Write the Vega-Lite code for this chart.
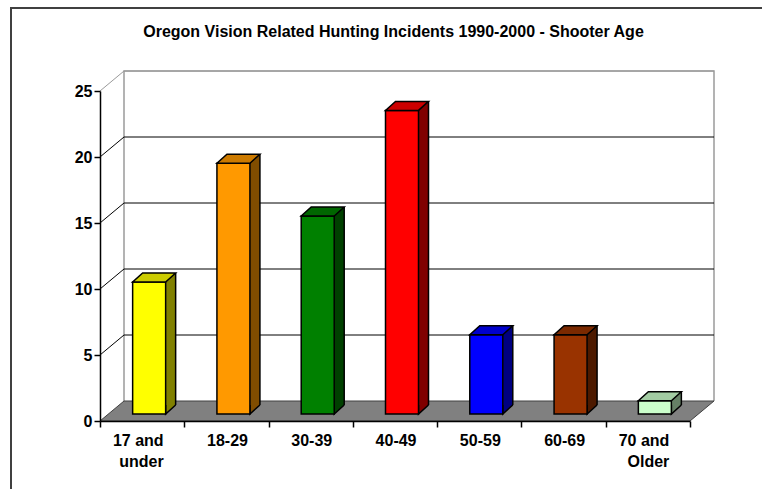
{
  "$schema": "https://vega.github.io/schema/vega-lite/v6.json",
  "width": 751,
  "height": 481,
  "autosize": {"type": "none"},
  "padding": {"left": 11, "top": 8, "right": 0, "bottom": 0},
  "background": "white",
  "config": {
    "view": {"stroke": "#404040", "strokeWidth": 2, "strokeDash": [751, 1232, 481], "fill": "white"},
    "font": "Liberation Sans"
  },
  "title": {
    "text": "Oregon Vision Related Hunting Incidents 1990-2000 - Shooter Age",
    "font": "Liberation Sans",
    "fontSize": 16,
    "fontWeight": "bold",
    "color": "black",
    "anchor": "middle",
    "frame": "group",
    "baseline": "alphabetic",
    "offset": -26,
    "dx": 7,
    "dy": 19
  },
  "datasets": {
    "bars": [
      {"cat": "17 and under", "v": 10},
      {"cat": "18-29", "v": 19},
      {"cat": "30-39", "v": 15},
      {"cat": "40-49", "v": 23},
      {"cat": "50-59", "v": 6},
      {"cat": "60-69", "v": 6},
      {"cat": "70 and Older", "v": 1}
    ],
    "grid": [{"v": 5}, {"v": 10}, {"v": 15}, {"v": 20}, {"v": 25}],
    "one": [{"k": "plane"}]
  },
  "resolve": {"scale": {"fill": "independent"}},
  "layer": [
    {
      "data": {"name": "one"},
      "mark": {"type": "point", "shape": "M-271,-20L-271,-350L319,-350L319,-20", "size": 4, "filled": false, "stroke": "#9a9a9a", "strokeWidth": 1.5, "opacity": 1},
      "encoding": {
        "x": {"datum": "40-49", "type": "nominal", "scale": {"type": "band", "domain": ["17 and under", "18-29", "30-39", "40-49", "50-59", "60-69", "70 and Older"], "range": [89, 679], "paddingInner": 0, "paddingOuter": 0}},
        "y": {"datum": 0, "type": "quantitative", "scale": {"domain": [0, 25], "range": [413, 83], "nice": false}}
      }
    },
    {
      "data": {"name": "grid"},
      "mark": {"type": "point", "shape": "M-295,0L-271,-20L319,-20", "size": 4, "filled": false, "strokeWidth": 1, "opacity": 1},
      "encoding": {
        "x": {"datum": "40-49", "type": "nominal"},
        "y": {"field": "v", "type": "quantitative"},
        "stroke": {"condition": {"test": "datum.v == 25", "value": "#9a9a9a"}, "value": "black"}
      }
    },
    {
      "data": {"name": "one"},
      "mark": {"type": "point", "shape": "M-295,0L295,0L319,-20L-271,-20Z", "size": 4, "filled": true, "fill": "#808080", "stroke": "#404040", "strokeWidth": 1, "opacity": 1},
      "encoding": {
        "x": {"datum": "40-49", "type": "nominal"},
        "y": {"datum": 0, "type": "quantitative"}
      }
    },
    {
      "data": {"name": "bars"},
      "mark": {"type": "bar", "width": 10, "xOffset": 28.5, "yOffset": -16, "y2Offset": -16, "strokeWidth": 0},
      "encoding": {
        "x": {"field": "cat", "type": "nominal"},
        "y": {"field": "v", "type": "quantitative"},
        "y2": {"datum": 0},
        "fill": {"field": "cat", "type": "nominal", "legend": null, "scale": {"domain": ["17 and under", "18-29", "30-39", "40-49", "50-59", "60-69", "70 and Older"], "range": ["#808000", "#804d00", "#004000", "#800000", "#000080", "#4d1a00", "#668066"]}}
      }
    },
    {
      "data": {"name": "bars"},
      "mark": {"type": "point", "shape": "M26.5,-9L16.5,0L16.5,-9", "size": 4, "filled": true, "stroke": "black", "strokeWidth": 1.5, "xOffset": 7, "yOffset": -7, "opacity": 1},
      "encoding": {
        "x": {"field": "cat", "type": "nominal"},
        "y": {"datum": 0, "type": "quantitative"},
        "fill": {"field": "cat", "type": "nominal", "legend": null, "scale": {"domain": ["17 and under", "18-29", "30-39", "40-49", "50-59", "60-69", "70 and Older"], "range": ["#808000", "#804d00", "#004000", "#800000", "#000080", "#4d1a00", "#668066"]}}
      }
    },
    {
      "data": {"name": "bars"},
      "mark": {"type": "rule", "xOffset": 33.5, "yOffset": -16, "y2Offset": -16, "stroke": "black", "strokeWidth": 1.5},
      "encoding": {
        "x": {"field": "cat", "type": "nominal"},
        "y": {"field": "v", "type": "quantitative"},
        "y2": {"datum": 0}
      }
    },
    {
      "data": {"name": "bars"},
      "mark": {"type": "bar", "width": 33, "xOffset": 7, "yOffset": -7, "y2Offset": -7, "stroke": "black", "strokeWidth": 1.5},
      "encoding": {
        "x": {
          "field": "cat", "type": "nominal",
          "axis": {
            "title": null, "orient": "bottom", "offset": -68, "tickBand": "extent",
            "domainColor": "black", "domainWidth": 1.5, "tickColor": "black", "tickSize": 6, "tickWidth": 1.5,
            "labelAngle": 0, "labelFont": "Liberation Sans", "labelFontWeight": "bold", "labelFontSize": 16,
            "labelColor": "black", "labelPadding": 13, "labelLineHeight": 21, "labelOverlap": false, "labelOffset": 21,
            "labelExpr": "datum.label == '17 and under' ? ['17 and', 'under'] : datum.label == '70 and Older' ? ['70 and', 'Older'] : datum.label",
            "zindex": 1
          }
        },
        "y": {
          "field": "v", "type": "quantitative",
          "axis": {
            "title": null, "orient": "left", "offset": -89, "values": [0, 5, 10, 15, 20, 25], "grid": false,
            "domainColor": "black", "domainWidth": 1.5, "tickColor": "black", "tickSize": 6, "tickWidth": 1.5,
            "labelFont": "Liberation Sans", "labelFontWeight": "bold", "labelFontSize": 16, "labelColor": "black",
            "labelPadding": 2, "zindex": 1
          }
        },
        "y2": {"datum": 0},
        "fill": {"field": "cat", "type": "nominal", "legend": null, "scale": {"domain": ["17 and under", "18-29", "30-39", "40-49", "50-59", "60-69", "70 and Older"], "range": ["#ffff00", "#ff9900", "#008000", "#ff0000", "#0000ff", "#993300", "#ccffcc"]}}
      }
    },
    {
      "data": {"name": "bars"},
      "mark": {"type": "point", "shape": "M-16.5,0L16.5,0L26.5,-9L-6.5,-9Z", "size": 4, "filled": true, "stroke": "black", "strokeWidth": 1.5, "xOffset": 7, "yOffset": -7, "opacity": 1},
      "encoding": {
        "x": {"field": "cat", "type": "nominal"},
        "y": {"field": "v", "type": "quantitative"},
        "fill": {"field": "cat", "type": "nominal", "legend": null, "scale": {"domain": ["17 and under", "18-29", "30-39", "40-49", "50-59", "60-69", "70 and Older"], "range": ["#cccc00", "#cc7a00", "#006600", "#cc0000", "#0000cc", "#7a2900", "#a3cca3"]}}
      }
    }
  ]
}
